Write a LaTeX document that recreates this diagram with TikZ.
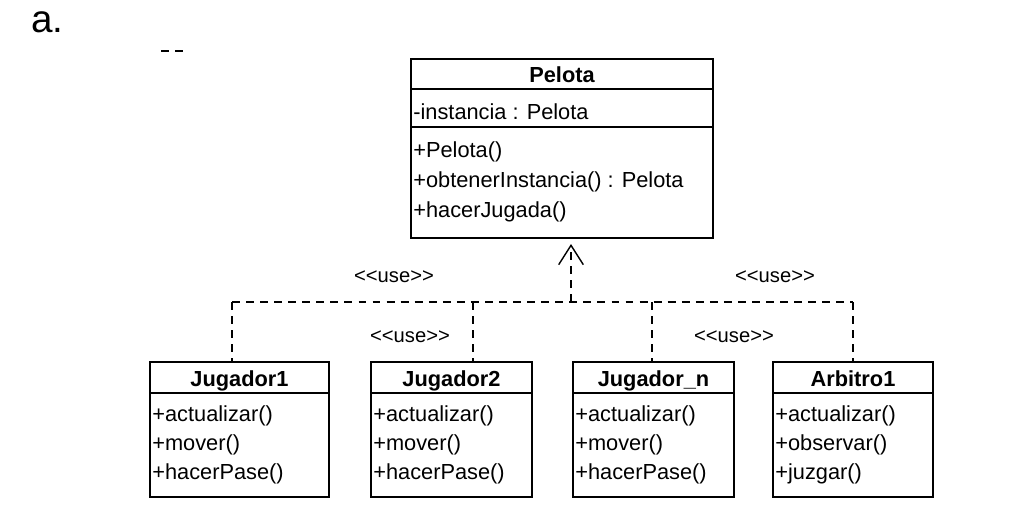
\documentclass[tikz,border=0pt]{standalone}
\usepackage{fontspec}
\setmainfont{Liberation Sans}
\usetikzlibrary{arrows.meta}

\tikzset{
    classbox/.style={draw, line width=0.8pt, inner sep=0pt},
    classname/.style={font=\fontsize{12.4}{14}\selectfont\bfseries, anchor=base, inner sep=0pt},
    member/.style={font=\fontsize{12.4}{14}\selectfont, anchor=base west, inner sep=0pt},
    uselabel/.style={font=\fontsize{11.5}{13}\selectfont, inner sep=0pt},
    dep/.style={line width=0.8pt, dash pattern=on 4.5pt off 3.5pt},
}

\begin{document}
\begin{tikzpicture}[x=0.02cm, y=-0.02cm]
    \useasboundingbox (0,0) rectangle (1035,518);

    \node[font=\fontsize{22}{24}\selectfont, anchor=base west, inner sep=0pt] (tag) at (31,32) {a.};
    \draw[dep] (161,51) -- (189,51);

    % clases
    \node[classbox, minimum width=6.04cm, minimum height=3.58cm] (pelota) at (562,148.5) {};
    \node[classbox, minimum width=3.58cm, minimum height=2.7cm] (j1) at (239.5,429.5) {};
    \node[classbox, minimum width=3.22cm, minimum height=2.7cm] (j2) at (451.5,429.5) {};
    \node[classbox, minimum width=3.22cm, minimum height=2.7cm] (jn) at (653.5,429.5) {};
    \node[classbox, minimum width=3.2cm, minimum height=2.7cm] (a1) at (853,429.5) {};

    \draw[line width=1pt] (pelota.west |- 0,89) -- (pelota.east |- 0,89);
    \draw[line width=1pt] (pelota.west |- 0,127) -- (pelota.east |- 0,127);
    \draw[line width=1pt] (j1.west |- 0,393) -- (j1.east |- 0,393);
    \draw[line width=1pt] (j2.west |- 0,393) -- (j2.east |- 0,393);
    \draw[line width=1pt] (jn.west |- 0,393) -- (jn.east |- 0,393);
    \draw[line width=1pt] (a1.west |- 0,393) -- (a1.east |- 0,393);

    \node[classname] (pelotaname) at (562,82) {Pelota};
    \node[member] (pelotaattr) at (413,119) {-instancia : Pelota};
    \node[member] (pelotam1) at (413,157) {+Pelota()};
    \node[member] (pelotam2) at (413,187) {+obtenerInstancia() : Pelota};
    \node[member] (pelotam3) at (413,217) {+hacerJugada()};

    \node[classname] (j1name) at (239.5,386) {Jugador1};
    \node[member] (j1m1) at (152,421) {+actualizar()};
    \node[member] (j1m2) at (152,450) {+mover()};
    \node[member] (j1m3) at (152,479) {+hacerPase()};

    \node[classname] (j2name) at (451.5,386) {Jugador2};
    \node[member] (j2m1) at (373,421) {+actualizar()};
    \node[member] (j2m2) at (373,450) {+mover()};
    \node[member] (j2m3) at (373,479) {+hacerPase()};

    \node[classname] (jnname) at (653.5,386) {Jugador\_n};
    \node[member] (jnm1) at (575,421) {+actualizar()};
    \node[member] (jnm2) at (575,450) {+mover()};
    \node[member] (jnm3) at (575,479) {+hacerPase()};

    \node[classname] (a1name) at (853,386) {Arbitro1};
    \node[member] (a1m1) at (775,421) {+actualizar()};
    \node[member] (a1m2) at (775,450) {+observar()};
    \node[member] (a1m3) at (775,479) {+juzgar()};

    % dependencias
    \coordinate (hub) at (571,302);
    \coordinate (tip) at (571,244);
    \coordinate (bus1) at (232,302);
    \coordinate (bus2) at (473,302);
    \coordinate (busn) at (652,302);
    \coordinate (busa) at (853,302);

    \draw[dep] (bus1) -- (busa);
    \draw[dep, -{Straight Barb[length=11pt, width=14pt, line width=0.8pt]}] (hub) -- (tip);
    \draw[dep] (bus1) -- (bus1 |- j1.north);
    \draw[dep] (bus2) -- (bus2 |- j2.north);
    \draw[dep] (busn) -- (busn |- jn.north);
    \draw[dep] (busa) -- (busa |- a1.north);

    \node[uselabel] (use1) at (394,277) {{<}{<}use{>}{>}};
    \node[uselabel] (use2) at (775,277) {{<}{<}use{>}{>}};
    \node[uselabel] (use3) at (410,337) {{<}{<}use{>}{>}};
    \node[uselabel] (use4) at (734,337) {{<}{<}use{>}{>}};
\end{tikzpicture}
\end{document}
